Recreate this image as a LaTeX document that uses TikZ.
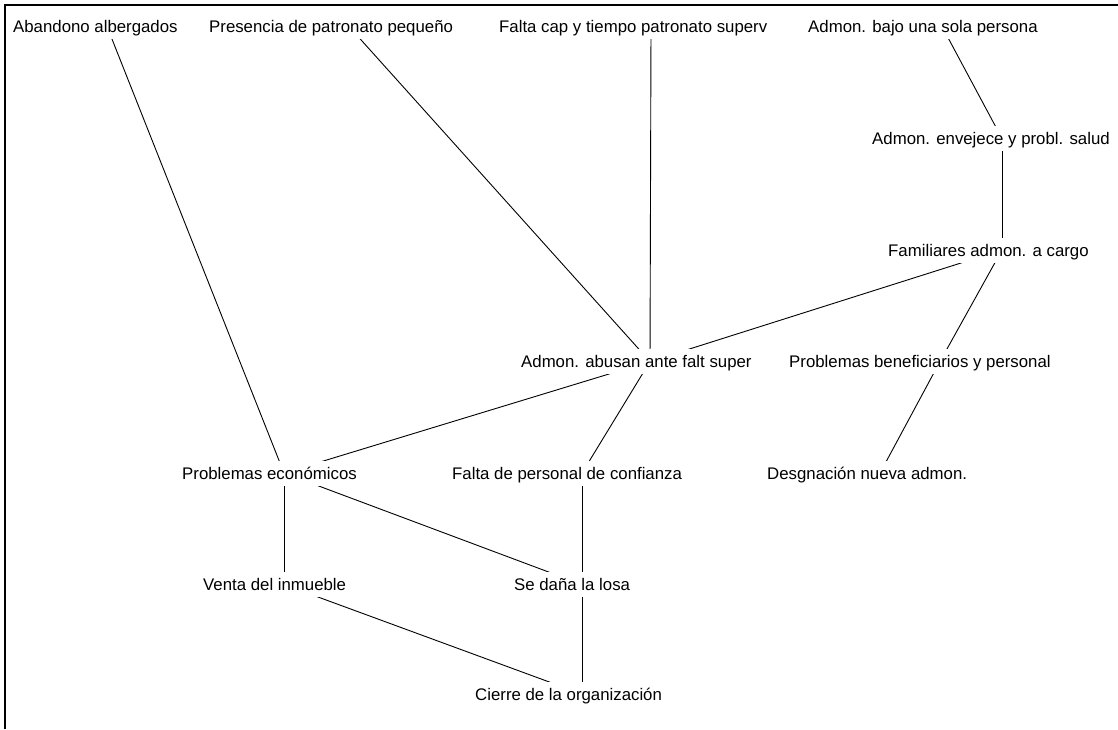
\documentclass[tikz,border=0pt]{standalone}
\usepackage{fontspec}
\setmainfont{Liberation Sans}
\begin{document}
\begin{tikzpicture}[x=1pt,y=-1pt,
  lbl/.style={anchor=west, fill=white, inner xsep=0pt, inner ysep=6.4pt,
    text height=12.2pt, text depth=0pt, font=\fontsize{16.8}{20}\selectfont},
  link/.style={line width=0.9pt, draw=black},
  frame/.style={line width=2pt, draw=black}]
\useasboundingbox (0,0) rectangle (1118,729);
\draw[frame] (5,729) -- (5,5) -- (1118,5);
% hub points where connectors meet
\coordinate (ab-h) at (107,26.5);
\coordinate (pr-h) at (349,26.5);
\coordinate (fc-h) at (651,26.5);
\coordinate (ad-h) at (942,26.5);
\coordinate (en-h) at (1002,138.5);
\coordinate (fa-h) at (1002,250);
\coordinate (aa-h) at (650,361.5);
\coordinate (pb-h) at (940,361.5);
\coordinate (pe-h) at (284,473);
\coordinate (fp-h) at (582,473);
\coordinate (de-h) at (880,473);
\coordinate (ve-h) at (284,584.5);
\coordinate (sd-h) at (582,584.5);
\coordinate (ci-h) at (582,694);
% connectors
\draw[link] (ab-h) -- (pe-h);
\draw[link] (pr-h) -- (aa-h);
\draw[link] (fc-h) -- (aa-h);
\draw[link] (ad-h) -- (en-h);
\draw[link] (en-h) -- (fa-h);
\draw[link] (fa-h) -- (aa-h);
\draw[link] (fa-h) -- (pb-h);
\draw[link] (pb-h) -- (de-h);
\draw[link] (aa-h) -- (pe-h);
\draw[link] (aa-h) -- (fp-h);
\draw[link] (pe-h) -- (ve-h);
\draw[link] (pe-h) -- (sd-h);
\draw[link] (fp-h) -- (sd-h);
\draw[link] (ve-h) -- (ci-h);
\draw[link] (sd-h) -- (ci-h);
% labels
\node[lbl] (ab) at (13,26.5) {Abandono albergados};
\node[lbl] (pr) at (209,26.5) {Presencia de patronato pequeño};
\node[lbl] (fc) at (499,26.5) {Falta cap y tiempo patronato superv};
\node[lbl] (ad) at (808,26.5) {Admon. bajo una sola persona};
\node[lbl] (en) at (872,138.5) {Admon. envejece y probl. salud};
\node[lbl] (fa) at (888,250) {Familiares admon. a cargo};
\node[lbl] (aa) at (521,361.5) {Admon. abusan ante falt super};
\node[lbl] (pb) at (789,361.5) {Problemas beneficiarios y personal};
\node[lbl] (pe) at (182,473) {Problemas económicos};
\node[lbl] (fp) at (452,473) {Falta de personal de confianza};
\node[lbl] (de) at (767,473) {Desgnación nueva admon.};
\node[lbl] (ve) at (203,584.5) {Venta del inmueble};
\node[lbl] (sd) at (514,584.5) {Se daña la losa};
\node[lbl] (ci) at (475,694) {Cierre de la organización};
\end{tikzpicture}
\end{document}
